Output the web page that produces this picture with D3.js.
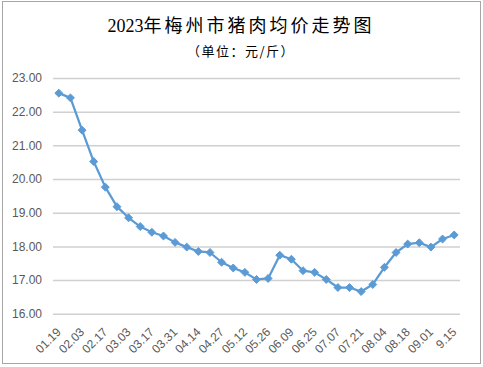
<!DOCTYPE html>
<html>
<head>
<meta charset="utf-8">
<script src="https://cdn.jsdelivr.net/npm/d3@7/dist/d3.min.js"></script>
<style>
  body { margin: 0; background: #fff; }
  svg { display: block; }
</style>
</head>
<body>
<svg width="483" height="367"></svg>
<script>
// weekly average pork price, 35 readings (every other one labelled)
const prices = [
  22.55, 22.41, 21.45, 20.52, 19.76, 19.18, 18.85, 18.59, 18.42, 18.31,
  18.12, 17.98, 17.85, 17.82, 17.53, 17.36, 17.23, 17.02, 17.05, 17.74,
  17.62, 17.28, 17.23, 17.02, 16.78, 16.78, 16.66, 16.87, 17.38, 17.82,
  18.07, 18.11, 17.98, 18.22, 18.34
];

const tickLabels = [
  "01.19", "02.03", "02.17", "03.03", "03.17", "03.31", "04.14", "04.27",
  "05.12", "05.26", "06.09", "06.25", "07.07", "07.21", "08.04", "08.18",
  "09.01", "9.15"
];

const yTicks = [16, 17, 18, 19, 20, 21, 22, 23];

const titleNum = "2023";
const titleText = "年梅州市猪肉均价走势图";
const subTitle = "（单位：元/斤）";

const svg = d3.select("svg");

// outer frame
svg.append("rect")
  .attr("x", 2.5).attr("y", 1.5)
  .attr("width", 478).attr("height", 362)
  .attr("fill", "#fff")
  .attr("stroke", "#a6a6a6")
  .attr("stroke-width", 1);

// title
const title = svg.append("text")
  .attr("x", 241)
  .attr("y", 32)
  .attr("text-anchor", "middle")
  .attr("fill", "#000")
  .style("font-size", "18px");
title.append("tspan")
  .style("font-family", "'Liberation Serif', serif")
  .text(titleNum);
title.append("tspan")
  .style("font-family", "'Noto Sans CJK SC', sans-serif")
  .style("letter-spacing", "3px")
  .text(titleText);

svg.append("text")
  .attr("x", 241)
  .attr("y", 56)
  .attr("text-anchor", "middle")
  .attr("fill", "#000")
  .style("font-family", "'Noto Sans CJK SC', sans-serif")
  .style("font-size", "13px")
  .style("letter-spacing", "1.5px")
  .text(subTitle);

// scales
const xScale = d3.scaleBand()
  .domain(d3.range(prices.length))
  .range([53, 460])
  .padding(0);
const xPos = i => xScale(i) + xScale.bandwidth() / 2;

const yScale = d3.scaleLinear()
  .domain([16, 23])
  .range([313.8, 78]);

// gridlines + y labels
const yAxis = d3.axisLeft(yScale)
  .tickValues(yTicks)
  .tickSize(-(460 - 53))
  .tickPadding(11)
  .tickFormat(d3.format(".2f"));

const gy = svg.append("g")
  .attr("transform", "translate(53,0)")
  .call(yAxis);
gy.select(".domain").remove();
gy.selectAll(".tick line")
  .attr("stroke", "#d0d0d0")
  .attr("stroke-width", 1.5);
gy.selectAll(".tick text")
  .attr("fill", "#595959")
  .style("font-family", "'Liberation Sans', Arial, sans-serif")
  .style("font-size", "12px");

// x labels, every other category
const xAxis = d3.axisBottom(xScale)
  .tickValues(d3.range(0, prices.length, 2))
  .tickSize(0)
  .tickFormat((d, i) => tickLabels[i]);

const gx = svg.append("g")
  .attr("transform", "translate(0,313.8)")
  .call(xAxis);
gx.select(".domain").remove();
gx.selectAll(".tick text")
  .attr("fill", "#595959")
  .attr("text-anchor", "end")
  .attr("x", 0)
  .attr("y", 0)
  .attr("dy", 0)
  .attr("transform", "translate(3,19) rotate(-45)")
  .style("font-family", "'Liberation Sans', Arial, sans-serif")
  .style("font-size", "12px");

// price line
const line = d3.line()
  .x((d, i) => xPos(i))
  .y(d => yScale(d));

svg.append("path")
  .attr("d", line(prices))
  .attr("fill", "none")
  .attr("stroke", "#5b9bd5")
  .attr("stroke-width", 2.25)
  .attr("stroke-linejoin", "round");

// diamond markers
const diamond = d3.symbol().type(d3.symbolDiamond2).size(40);
svg.selectAll("path.marker")
  .data(prices)
  .enter()
  .append("path")
  .attr("class", "marker")
  .attr("d", diamond)
  .attr("transform", (d, i) => `translate(${xPos(i)},${yScale(d)})`)
  .attr("fill", "#5b9bd5")
  .attr("stroke", "#5b9bd5")
  .attr("stroke-width", 1);
</script>
</body>
</html>
